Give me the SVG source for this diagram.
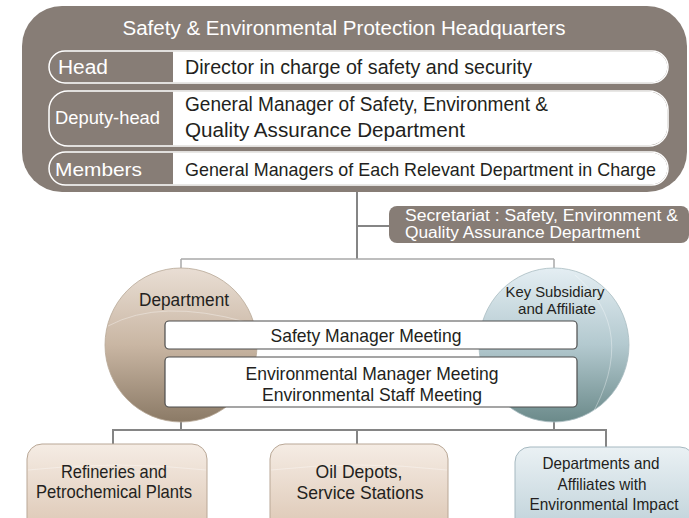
<svg xmlns="http://www.w3.org/2000/svg" width="689" height="518" viewBox="0 0 689 518">
<style>
text{font-family:"Liberation Sans",Arial,sans-serif;}
.w{fill:#ffffff;}
.d{fill:#231f20;}
.hq{fill:#877d76;}
.pill{fill:#877d76;stroke:#ffffff;stroke-width:1.5;}
.pw{fill:#ffffff;}
.ln{stroke:#858585;stroke-width:2;fill:none;}
.ln2{stroke:#a8a8a8;stroke-width:1.5;fill:none;}
.mt{fill:#ffffff;stroke:#4d4d4d;stroke-width:1.2;}
.bb{stroke:#b9a796;stroke-width:1;}
.bl{stroke:#a5b8c0;stroke-width:1;}
.hl{fill:none;stroke:#ffffff;stroke-opacity:0.35;stroke-width:1;}
</style>
<defs>
<linearGradient id="gDep" x1="0" y1="0" x2="0" y2="1">
<stop offset="0" stop-color="#e9ded4"/>
<stop offset="0.5" stop-color="#c9b6a3"/>
<stop offset="1" stop-color="#8b7a66"/>
</linearGradient>
<linearGradient id="gKey" x1="0" y1="0" x2="0" y2="1">
<stop offset="0" stop-color="#e4eef3"/>
<stop offset="0.5" stop-color="#b3c9cf"/>
<stop offset="1" stop-color="#6b8a8a"/>
</linearGradient>
<linearGradient id="gBox" x1="0" y1="0" x2="0" y2="1">
<stop offset="0" stop-color="#f5ece4"/>
<stop offset="1" stop-color="#dcc6b3"/>
</linearGradient>
<linearGradient id="gBoxB" x1="0" y1="0" x2="0" y2="1">
<stop offset="0" stop-color="#eaf1f4"/>
<stop offset="1" stop-color="#bccfd7"/>
</linearGradient>
</defs>

<g id="connectors">
<line class="ln" x1="357" y1="192" x2="357" y2="259"/>
<line class="ln" x1="357" y1="226" x2="389" y2="226"/>
<line class="ln2" x1="181" y1="259" x2="554" y2="259"/>
<line class="ln2" x1="181" y1="259" x2="181" y2="268"/>
<line class="ln2" x1="554" y1="259" x2="554" y2="268"/>
<line class="ln" x1="181" y1="420" x2="181" y2="430"/>
<line class="ln" x1="554" y1="420" x2="554" y2="430"/>
<line class="ln" x1="113" y1="430" x2="606" y2="430"/>
<line class="ln" x1="113" y1="429" x2="113" y2="444"/>
<line class="ln" x1="357" y1="430" x2="357" y2="444"/>
<line class="ln" x1="606" y1="429" x2="606" y2="447"/>
</g>

<g id="headquarters">
<rect class="hq" x="22" y="6" width="665" height="186" rx="40"/>
<text class="w" x="344" y="35" font-size="19.5" text-anchor="middle" textLength="443" lengthAdjust="spacingAndGlyphs">Safety &amp; Environmental Protection Headquarters</text>
</g>

<g id="row-head">
<rect class="pill" x="49" y="51" width="619" height="32" rx="16"/>
<path class="pw" d="M173,51.75 H652 A15.25,15.25 0 0 1 652,82.25 H173 Z"/>
<text class="w" x="58" y="74" font-size="20" textLength="50" lengthAdjust="spacingAndGlyphs">Head</text>
<text class="d" x="185" y="74" font-size="20.5" textLength="347" lengthAdjust="spacingAndGlyphs">Director in charge of safety and security</text>
</g>

<g id="row-deputy">
<rect class="pill" x="49" y="91" width="619" height="55" rx="19"/>
<path class="pw" d="M173,91.75 H649 A18.25,18.25 0 0 1 667.25,110 V127 A18.25,18.25 0 0 1 649,145.25 H173 Z"/>
<text class="w" x="55" y="124" font-size="17.5" textLength="105" lengthAdjust="spacingAndGlyphs">Deputy-head</text>
<text class="d" x="185" y="111" font-size="20.5" textLength="363" lengthAdjust="spacingAndGlyphs">General Manager of Safety, Environment &amp;</text>
<text class="d" x="185" y="137" font-size="20.5" textLength="280" lengthAdjust="spacingAndGlyphs">Quality Assurance Department</text>
</g>

<g id="row-members">
<rect class="pill" x="49" y="152" width="619" height="33" rx="16.5"/>
<path class="pw" d="M173,152.75 H651.5 A15.75,15.75 0 0 1 651.5,184.25 H173 Z"/>
<text class="w" x="55" y="176" font-size="19" textLength="87" lengthAdjust="spacingAndGlyphs">Members</text>
<text class="d" x="185" y="176" font-size="19" textLength="471" lengthAdjust="spacingAndGlyphs">General Managers of Each Relevant Department in Charge</text>
</g>

<g id="secretariat">
<rect class="hq" x="389" y="206" width="300" height="37" rx="8"/>
<text class="w" x="405" y="221" font-size="16" textLength="273" lengthAdjust="spacingAndGlyphs">Secretariat : Safety, Environment &amp;</text>
<text class="w" x="405" y="238" font-size="16" textLength="235" lengthAdjust="spacingAndGlyphs">Quality Assurance Department</text>
</g>

<g id="department">
<ellipse cx="181" cy="345" rx="76" ry="77" fill="url(#gDep)" stroke="#b8a897" stroke-width="0.8"/>
<path class="hl" d="M108,326 Q160,298 246,322"/>
<text class="d" x="184" y="306" font-size="17.5" text-anchor="middle" textLength="90" lengthAdjust="spacingAndGlyphs">Department</text>
</g>

<g id="key-subsidiary">
<ellipse cx="554" cy="345" rx="75" ry="77" fill="url(#gKey)" stroke="#a9bcc2" stroke-width="0.8"/>
<path class="hl" d="M575,275 Q640,330 590,418"/>
<text class="d" x="555" y="297" font-size="15" text-anchor="middle" textLength="99" lengthAdjust="spacingAndGlyphs">Key Subsidiary</text>
<text class="d" x="557" y="314" font-size="15" text-anchor="middle" textLength="78" lengthAdjust="spacingAndGlyphs">and Affiliate</text>
</g>

<g id="safety-meeting">
<rect class="mt" x="165" y="321" width="412" height="28" rx="4"/>
<text class="d" x="366" y="342" font-size="18.5" text-anchor="middle" textLength="191" lengthAdjust="spacingAndGlyphs">Safety Manager Meeting</text>
</g>

<g id="env-meeting">
<rect class="mt" x="165" y="357" width="412" height="50" rx="4"/>
<text class="d" x="372" y="380" font-size="18.5" text-anchor="middle" textLength="253" lengthAdjust="spacingAndGlyphs">Environmental Manager Meeting</text>
<text class="d" x="372" y="401" font-size="18.5" text-anchor="middle" textLength="220" lengthAdjust="spacingAndGlyphs">Environmental Staff Meeting</text>
</g>

<g id="refineries">
<rect class="bb" x="27" y="444" width="180" height="90" rx="15" fill="url(#gBox)"/>
<path class="hl" d="M28,470 Q117,460 206,470"/>
<text class="d" x="114" y="478" font-size="18.5" text-anchor="middle" textLength="106" lengthAdjust="spacingAndGlyphs">Refineries and</text>
<text class="d" x="114" y="498" font-size="18.5" text-anchor="middle" textLength="156" lengthAdjust="spacingAndGlyphs">Petrochemical Plants</text>
</g>

<g id="oil-depots">
<rect class="bb" x="270" y="444" width="178" height="90" rx="15" fill="url(#gBox)"/>
<path class="hl" d="M271,470 Q359,460 447,470"/>
<text class="d" x="359" y="478" font-size="18.5" text-anchor="middle" textLength="87" lengthAdjust="spacingAndGlyphs">Oil Depots,</text>
<text class="d" x="360" y="499" font-size="18.5" text-anchor="middle" textLength="127" lengthAdjust="spacingAndGlyphs">Service Stations</text>
</g>

<g id="env-impact">
<rect class="bl" x="515" y="447" width="180" height="90" rx="15" fill="url(#gBoxB)"/>
<text class="d" x="601" y="469" font-size="16.5" text-anchor="middle" textLength="117" lengthAdjust="spacingAndGlyphs">Departments and</text>
<text class="d" x="602" y="490" font-size="16.5" text-anchor="middle" textLength="89" lengthAdjust="spacingAndGlyphs">Affiliates with</text>
<text class="d" x="604" y="510" font-size="16.5" text-anchor="middle" textLength="149" lengthAdjust="spacingAndGlyphs">Environmental Impact</text>
</g>
</svg>
